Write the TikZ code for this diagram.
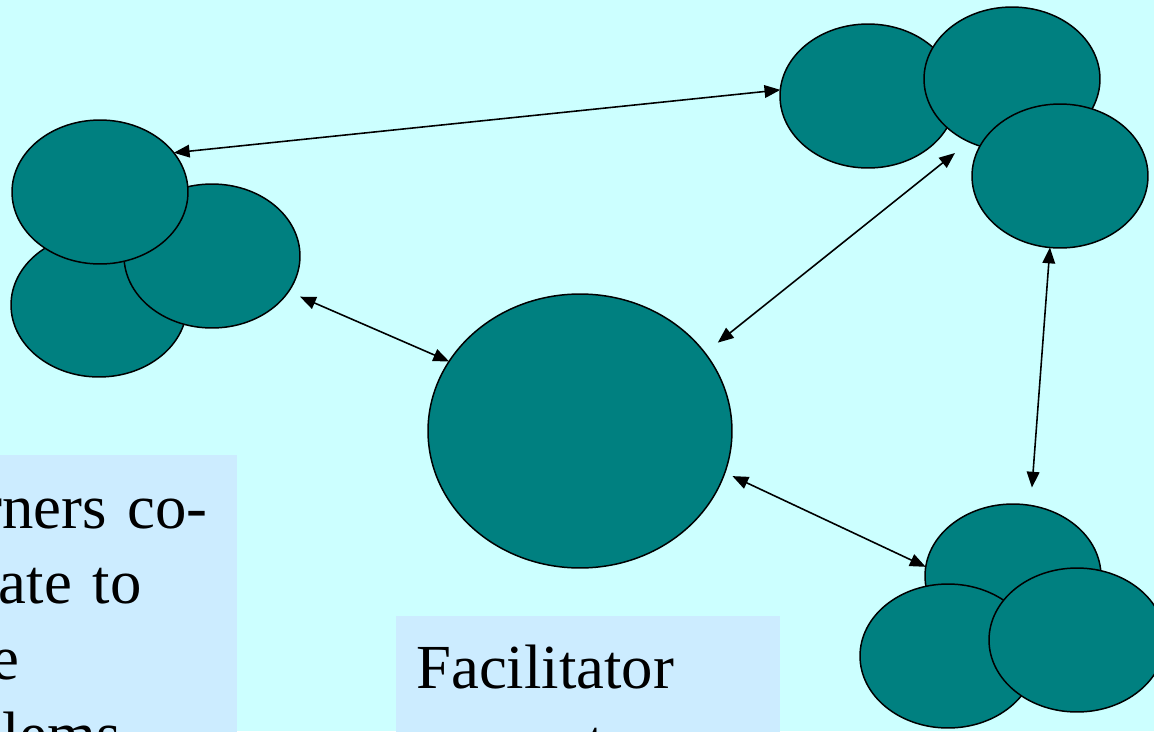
\documentclass[tikz,border=0pt]{standalone}
\usepackage{fontspec}
\setmainfont{Liberation Serif}
\usetikzlibrary{shapes.geometric, arrows.meta}
\definecolor{sky}{RGB}{204,255,255}
\definecolor{pale}{RGB}{204,236,255}
\definecolor{blobfill}{RGB}{0,128,128}
\tikzset{
blob/.style={ellipse, draw, line width=0.85pt, fill=blobfill, inner sep=0pt, outer sep=0pt,
    minimum width=3.52cm, minimum height=2.88cm},
link/.style={{Triangle[length=9pt,width=7.2pt]}-{Triangle[length=9pt,width=7.2pt]}, line width=0.9pt},
note/.style={anchor=base west, text width=8cm, align=left, inner sep=0pt,
    font=\fontsize{35.7}{43.2}\selectfont},
}

\begin{document}
\begin{tikzpicture}[x=0.02cm, y=-0.02cm]
    \useasboundingbox (0,0) rectangle (1154,731);
    \clip (0,0) rectangle (1154,731);
    \fill[sky] (0,0) rectangle (1154,731);
    % text boxes
    \fill[pale] (-130,455) rectangle (237,745);
    \fill[pale] (396,616) rectangle (780,745);
    \node[note] (learn) at (-113,528) {Learners co-\\operate to\\solve\\problems};
    \node[note] (facil) at (416,688) {Facilitator\\supports};
    % learners, top left
    \node[blob] (a1) at (99,305) {};
    \node[blob] (a2) at (212,256) {};
    \node[blob] (a3) at (100,192) {};
    % learners, top right
    \node[blob] (b1) at (868,96) {};
    \node[blob] (b2) at (1012,79) {};
    \node[blob] (b3) at (1060,176) {};
    % learners, bottom right
    \node[blob] (c1) at (1013,576) {};
    \node[blob] (c2) at (948,656) {};
    \node[blob] (c3) at (1077,640) {};
    % facilitator
    \node[blob, minimum width=6.08cm, minimum height=5.48cm] (fac) at (580,431) {};
    \coordinate (gap) at (955,153);
    \draw[link] (a3.28) -- (b1.176);
    \draw[link, shorten <=7.2pt] (a2.-25) -- (fac.152);
    \draw[link, shorten <=9.4pt] (fac.32) -- (gap);
    \draw[link, shorten >=10.2pt] (b3.262) -- (c1.76);
    \draw[link, shorten <=4.8pt] (fac.-16) -- (c1.174);
\end{tikzpicture}
\end{document}
